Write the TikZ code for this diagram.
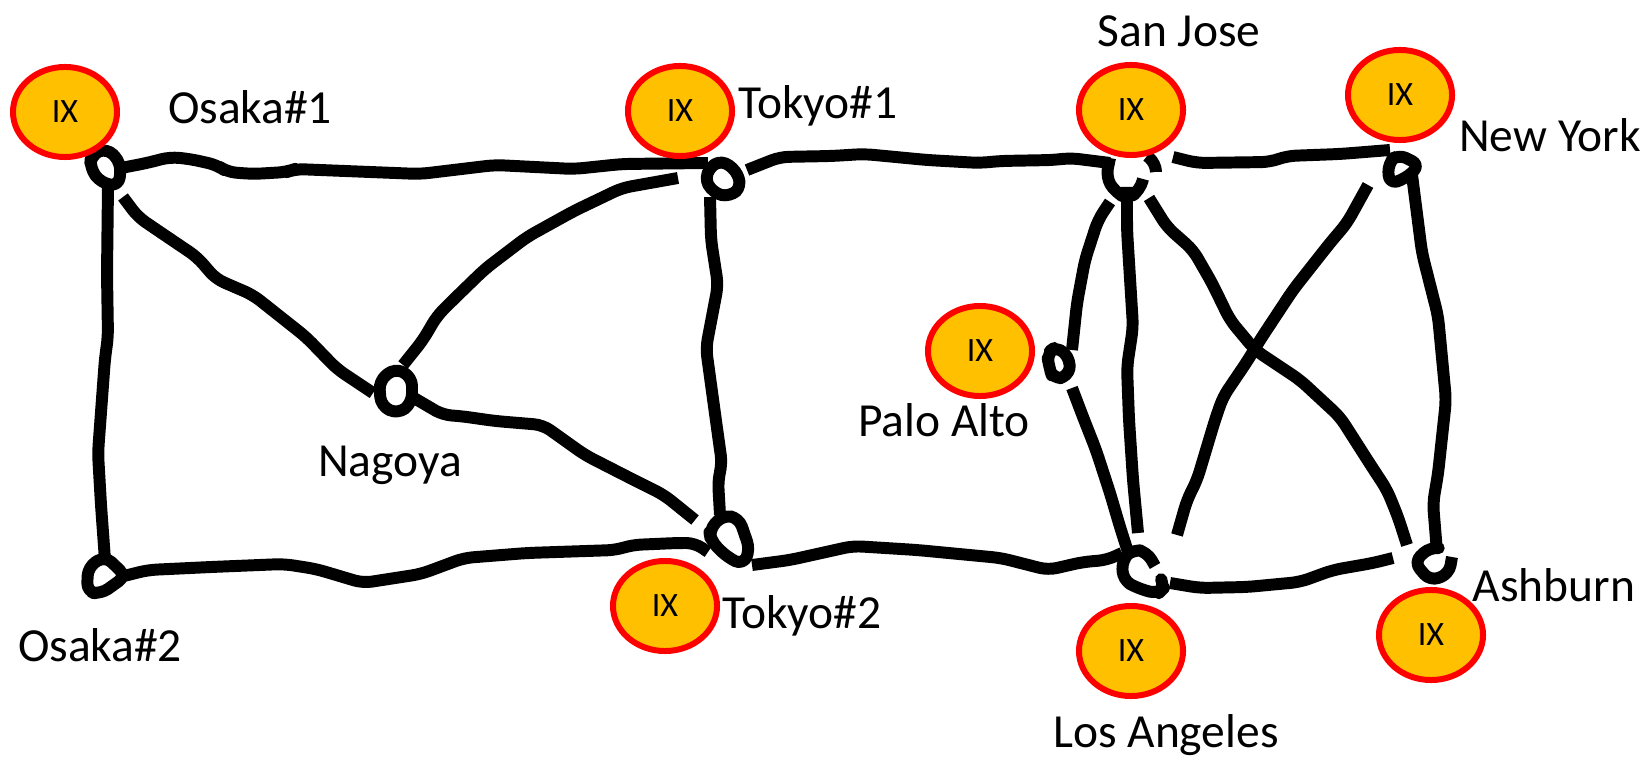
\documentclass[tikz,border=0pt]{standalone}
\usepackage{fontspec}
\setmainfont{Carlito}
\usepackage{tikz}
\definecolor{ixfill}{HTML}{FFC000}
\tikzstyle{ix} = [ellipse, minimum width=1.04cm, minimum height=0.90cm, inner sep=0pt, text centered, draw=red, line width=1.7pt, fill=ixfill, font=\fontsize{9.7}{11}\selectfont]
\tikzstyle{city} = [inner sep=0pt, text centered, font=\fontsize{13.5}{15}\selectfont]
\tikzstyle{link} = [black, line width=3.4pt, line join=round, rounded corners=2.5pt]
\usetikzlibrary{shapes.geometric}
\begin{document}
\begin{tikzpicture}[x=0.01cm, y=-0.01cm]
\useasboundingbox (0,0) rectangle (1652,758);

% ports on the rings
\coordinate (osakaAr) at (121,168);
\coordinate (osakaAd) at (108,185);
\coordinate (osakaAs) at (123,197);
\coordinate (osakaBu) at (105,560);
\coordinate (osakaBr) at (124,576);
\coordinate (nagoyaL) at (373,393);
\coordinate (nagoyaU) at (403,365);
\coordinate (nagoyaR) at (414,398);
\coordinate (tokyoAl) at (708,163);
\coordinate (tokyoAs) at (678,178);
\coordinate (tokyoAd) at (710,197);
\coordinate (tokyoAr) at (747,170);
\coordinate (tokyoBs) at (695,520);
\coordinate (tokyoBu) at (720,515);
\coordinate (tokyoBl) at (708,552);
\coordinate (tokyoBr) at (752,565);
\coordinate (sanjoseL) at (1110,163);
\coordinate (sanjoseR) at (1173,157);
\coordinate (sanjoseD) at (1127,187);
\coordinate (sanjoseP) at (1110,202);
\coordinate (sanjoseA) at (1149,198);
\coordinate (newyorkL) at (1390,150);
\coordinate (newyorkS) at (1368,185);
\coordinate (newyorkD) at (1412,175);
\coordinate (paloaltoU) at (1072,350);
\coordinate (paloaltoD) at (1072,388);
\coordinate (angelesU) at (1138,533);
\coordinate (angelesP) at (1128,552);
\coordinate (angelesN) at (1177,535);
\coordinate (angelesL) at (1122,553);
\coordinate (angelesR) at (1170,583);
\coordinate (ashburnU) at (1437,552);
\coordinate (ashburnS) at (1407,545);
\coordinate (ashburnL) at (1393,558);

% rings
\draw [link] (107,148) -- (121,163) -- (119,186) -- (101,183) -- (90,168) -- (91,155) -- cycle;
\draw [link] (105,556) -- (126,576) -- (101,594) -- (87,592) -- (88,567) -- cycle;
\draw [link] (395,368) -- (412,377) -- (412,403) -- (398,414) -- (381,406) -- (379,381) -- cycle;
\draw [link] (704,177) -- (717,160) -- (734,167) -- (742,186) -- (730,197) -- (713,193) -- cycle;
\draw [link] (709,530) -- (723,515) -- (739,518) -- (750,550) -- (743,565) -- (727,557) -- (711,541) -- cycle;
\draw [link] (1110,158) -- (1106,177) -- (1115,192) -- (1128,199) -- (1140,190) -- (1143,179);
\draw [link] (1147,156) -- (1156,163) -- (1156,172);
\draw [link] (1388,163) -- (1398,154) -- (1420,165) -- (1405,179) -- (1389,184) -- cycle;
\draw [link] (1047,353) -- (1057,346) -- (1071,360) -- (1068,377) -- (1053,379) -- (1049,367) -- cycle;
\draw [link] (1155,566) -- (1147,552) -- (1133,549) -- (1122,560) -- (1123,580) -- (1137,588) -- (1158,594) -- (1165,587) -- (1162,581);
\draw [link] (1452,557) -- (1449,574) -- (1430,581) -- (1414,562) -- (1430,547) -- (1438,548);

% links
\draw [link] (osakaAr) -- (147,163) -- (170,157) -- (190,159) -- (217,165) -- (227,172) -- (253,174) -- (287,172) -- (295,169) -- (420,174) -- (495,165) -- (574,169) -- (622,164) -- (tokyoAl);
\draw [link] (osakaAd) -- (107,274) -- (108,337) -- (105,358) -- (98,453) -- (101,505) -- (osakaBu);
\draw [link] (osakaAs) -- (138,217) -- (160,232) -- (197,257) -- (216,279) -- (253,295) -- (306,337) -- (337,369) -- (nagoyaL);
\draw [link] (nagoyaU) -- (423,340) -- (437,316) -- (453,300) -- (485,269) -- (527,237) -- (574,211) -- (622,188) -- (tokyoAs);
\draw [link] (nagoyaR) -- (443,415) -- (460,416) -- (495,421) -- (543,425) -- (585,455) -- (632,479) -- (664,495) -- (tokyoBs);
\draw [link] (osakaBr) -- (148,570) -- (211,567) -- (284,564) -- (316,569) -- (363,583) -- (421,574) -- (464,558) -- (527,553) -- (616,550) -- (632,545) -- (677,543) -- (695,543) -- (tokyoBl);
\draw [link] (tokyoAd) -- (711,240) -- (718,285) -- (706,348) -- (716,421) -- (722,464) -- (718,480) -- (tokyoBu);
\draw [link] (tokyoAr) -- (780,157) -- (832,156) -- (864,154) -- (927,160) -- (980,163) -- (1000,161) -- (1054,160) -- (1070,158) -- (sanjoseL);
\draw [link] (tokyoBr) -- (790,560) -- (853,546) -- (917,550) -- (1001,558) -- (1048,570) -- (1083,562) -- (1107,560) -- (angelesL);
\draw [link] (sanjoseR) -- (1197,163) -- (1270,162) -- (1287,156) -- (1340,154) -- (newyorkL);
\draw [link] (sanjoseD) -- (1127,230) -- (1133,327) -- (1127,367) -- (1129,420) -- (1133,480) -- (angelesU);
\draw [link] (sanjoseP) -- (1098,220) -- (1085,260) -- (1077,303) -- (paloaltoU);
\draw [link] (paloaltoD) -- (1083,417) -- (1096,450) -- (1110,493) -- (1120,527) -- (angelesP);
\draw [link] (sanjoseA) -- (1167,227) -- (1193,250) -- (1212,283) -- (1230,320) -- (1255,350) -- (1300,380) -- (1340,417) -- (1370,464) -- (1387,490) -- (1398,517) -- (ashburnS);
\draw [link] (angelesN) -- (1187,500) -- (1197,480) -- (1215,420) -- (1223,397) -- (1248,360) -- (1260,340) -- (1293,290) -- (1330,243) -- (1347,223) -- (newyorkS);
\draw [link] (newyorkD) -- (1422,253) -- (1438,316) -- (1446,400) -- (1438,474) -- (1433,503) -- (ashburnU);
\draw [link] (ashburnL) -- (1373,563) -- (1333,570) -- (1300,582) -- (1247,587) -- (1200,588) -- (angelesR);

% exchanges
\node (ixosakaA) [ix] at (65,112) {IX};
\node (ixtokyoA) [ix] at (680,111) {IX};
\node (ixsanjose) [ix] at (1131,110) {IX};
\node (ixnewyork) [ix] at (1400,95) {IX};
\node (ixpaloalto) [ix] at (980,351) {IX};
\node (ixtokyoB) [ix] at (665,606) {IX};
\node (ixangeles) [ix] at (1131,651) {IX};
\node (ixashburn) [ix] at (1431,635) {IX};

% names
\node (osakaA) [city] at (250,107) {Osaka\#1};
\node (tokyoA) [city] at (818,106) {Tokyo\#1};
\node (sanjose) [city] at (1179,31) {San Jose};
\node (newyork) [city] at (1550,135) {New York};
\node (paloalto) [city] at (944,420) {Palo Alto};
\node (nagoya) [city] at (390,465) {Nagoya};
\node (osakaB) [city] at (100,645) {Osaka\#2};
\node (tokyoB) [city] at (802,616) {Tokyo\#2};
\node (ashburn) [city] at (1554,585) {Ashburn};
\node (angeles) [city] at (1166,735) {Los Angeles};
\end{tikzpicture}
\end{document}
